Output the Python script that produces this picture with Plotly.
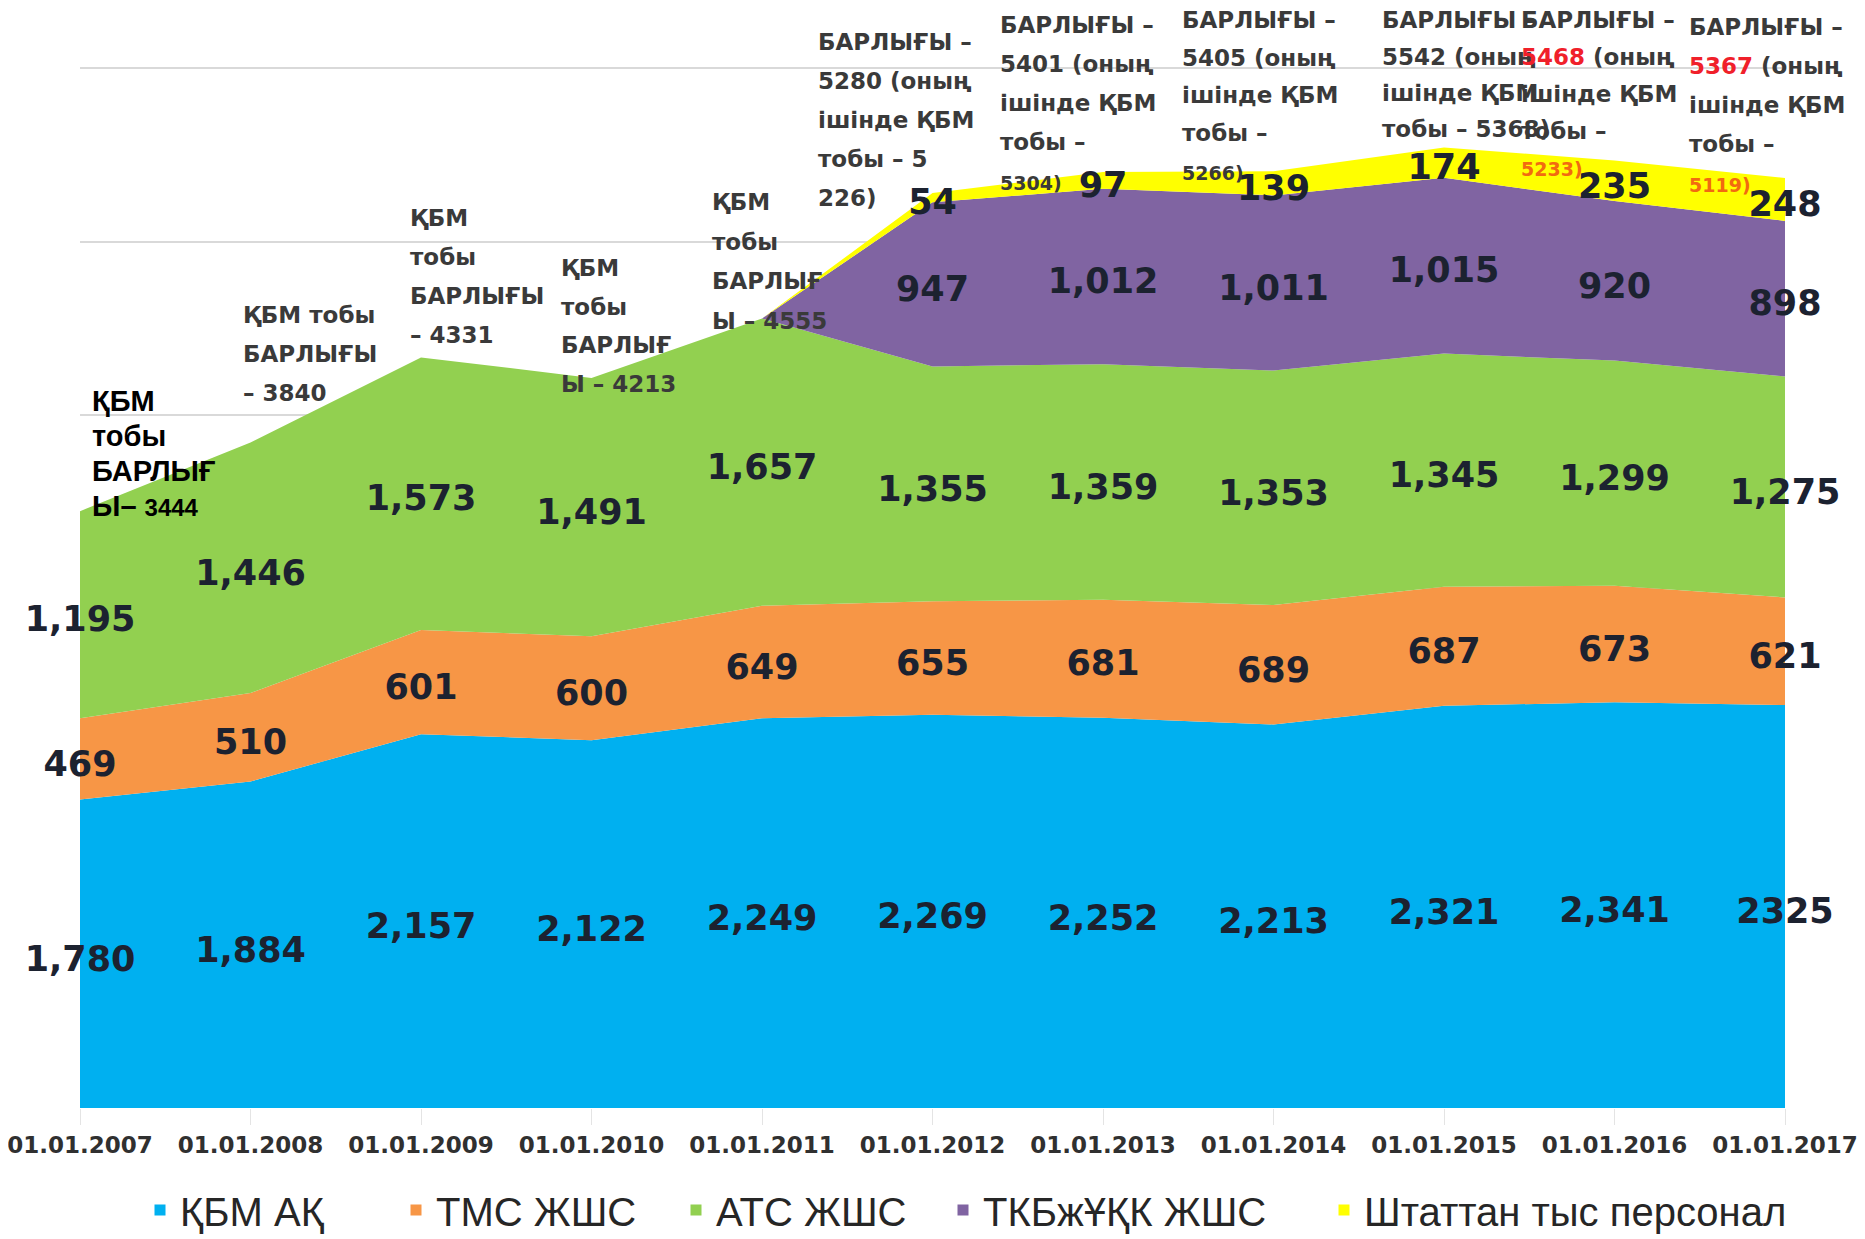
import plotly.graph_objects as go

# ---------------- data ----------------
categories = ["01.01.2007", "01.01.2008", "01.01.2009", "01.01.2010", "01.01.2011",
              "01.01.2012", "01.01.2013", "01.01.2014", "01.01.2015", "01.01.2016", "01.01.2017"]
series_names = ["ҚБМ АҚ", "ТМС ЖШС", "АТС ЖШС", "ТКБжҰҚК ЖШС", "Штаттан тыс персонал"]
kbm_ak = [1780, 1884, 2157, 2122, 2249, 2269, 2252, 2213, 2321, 2341, 2325]
tms = [469, 510, 601, 600, 649, 655, 681, 689, 687, 673, 621]
ats = [1195, 1446, 1573, 1491, 1657, 1355, 1359, 1353, 1345, 1299, 1275]
tkb = [0, 0, 0, 0, 0, 947, 1012, 1011, 1015, 920, 898]
staff = [0, 0, 0, 0, 0, 54, 97, 139, 174, 235, 248]
series_values = [kbm_ak, tms, ats, tkb, staff]

# total-label texts (one list of lines per category)
total_labels = [
    ["ҚБМ", "тобы", "БАРЛЫҒ", "Ы– <span style='font-size:24px'>3444</span>"],
    ["ҚБМ тобы", "БАРЛЫҒЫ", "– 3840"],
    ["ҚБМ", "тобы", "БАРЛЫҒЫ", "– 4331"],
    ["ҚБМ", "тобы", "БАРЛЫҒ", "Ы – 4213"],
    ["ҚБМ", "тобы", "БАРЛЫҒ", "Ы – 4555"],
    ["БАРЛЫҒЫ –", "5280 (оның", "ішінде ҚБМ", "тобы – 5", "226)"],
    ["БАРЛЫҒЫ –", "5401 (оның", "ішінде ҚБМ", "тобы –", "<span style='font-size:19px'>5304)</span>"],
    ["БАРЛЫҒЫ –", "5405 (оның", "ішінде ҚБМ", "тобы –", "<span style='font-size:19px'>5266)</span>"],
    ["БАРЛЫҒЫ –", "5542 (оның", "ішінде ҚБМ", "тобы – 5368)"],
    ["БАРЛЫҒЫ –", "<span style='color:#f0202a'>5468</span> (оның", "ішінде ҚБМ", "тобы –",
     "<span style='font-size:19px;color:#f26a10'>5233)</span>"],
    ["БАРЛЫҒЫ –", "<span style='color:#f0202a'>5367</span> (оның", "ішінде ҚБМ", "тобы –",
     "<span style='font-size:19px;color:#f26a10'>5119)</span>"],
]

# ---------------- styles / layout ----------------
colors = ["#00B0F0", "#F79646", "#92D050", "#8064A2", "#FFFF00"]
SCREEN_W, SCREEN_H = 1865, 1239
BODY = 8                      # default page margin around the figure
W, H = SCREEN_W - BODY, SCREEN_H - BODY
Y_MAX_GRID, Y_TOP = 6000, 6030
PX_PER_UNIT = 1040 / Y_MAX_GRID
PLOT_L, PLOT_R, PLOT_B = 80, 1785, 1108                 # screen pixels of plot area
PLOT_T = PLOT_B - Y_TOP * PX_PER_UNIT
ML, MT = PLOT_L - BODY, PLOT_T - BODY
MR, MB = W - (PLOT_R - BODY), H - (PLOT_B - BODY)
PW, PH = PLOT_R - PLOT_L, PLOT_B - PLOT_T
LABEL_DROP_PX = 8             # value labels sit slightly below band centre

# screen pixel positions (left x, first-line centre y, line step) of total-label blocks
block_pos = [
    (90, 401, 35), (241, 315, 39), (408, 218, 39), (559, 268, 38.5), (710, 202, 39.5),
    (816, 42, 39), (998, 25, 39), (1180, 20, 37.6), (1380, 20, 36.3), (1519, 20, 36.8),
    (1687, 27, 39),
]
# screen x where each legend entry's text begins, and legend centre y
legend_text_x = [178, 434, 714, 981, 1362]
legend_y = 1210


def px(x):
    return (x - PLOT_L) / PW


def py(y):
    return (PLOT_B - y) / PH


xs = list(range(len(categories)))
fig = go.Figure()

for name, vals, col in zip(series_names, series_values, colors):
    fig.add_trace(go.Scatter(
        x=xs, y=vals, stackgroup="one", mode="lines", line=dict(width=0, color=col),
        fillcolor=col, name=name, showlegend=False, hoverinfo="skip"))

# value labels centred in each band
drop = LABEL_DROP_PX / PX_PER_UNIT
cum = [0] * len(xs)
for si, vals in enumerate(series_values):
    mids, texts = [], []
    for i, v in enumerate(vals):
        mids.append(cum[i] + v / 2 - drop)
        t = f"{v:,}" if v > 0 else ""
        if si == 0 and i == len(xs) - 1:
            t = f"{v}"
        texts.append(t)
        cum[i] += v
    fig.add_trace(go.Scatter(
        x=xs, y=mids, mode="text", text=texts, textposition="middle center",
        textfont=dict(family="DejaVu Sans", size=35, color="#1c2230", weight="bold"),
        cliponaxis=False, showlegend=False, hoverinfo="skip"))

# legend entries, one legend box per entry
legend_layouts = {}
for k, (name, col, tx) in enumerate(zip(series_names, colors, legend_text_x)):
    lid = "legend" if k == 0 else f"legend{k + 1}"
    fig.add_trace(go.Scatter(
        x=[None], y=[None], mode="markers", name=name, legend=lid,
        marker=dict(symbol="square", size=11, color=col)))
    legend_layouts[lid] = dict(
        orientation="h", x=px(tx - 38), xanchor="left", y=py(legend_y), yanchor="middle",
        font=dict(family="Liberation Sans", size=40, color="#262626"),
        itemwidth=30, bgcolor="rgba(0,0,0,0)")

annotations = []
for bi, (lines, (bx, by, step)) in enumerate(zip(total_labels, block_pos)):
    if bi == 0:
        fnt = dict(family="Liberation Sans", size=29, color="#000000")
        lines = [f"<b>{l}</b>" for l in lines]
    else:
        fnt = dict(family="DejaVu Sans", size=23, color="#3a3a3a", weight="bold")
    for li, l in enumerate(lines):
        yy = by + li * step
        if "font-size:19px" in l:
            yy += 2
        annotations.append(dict(
            xref="paper", yref="paper", x=px(bx), y=py(yy), xanchor="left", yanchor="middle",
            text=l, showarrow=False, font=fnt))

fig.update_layout(
    width=W, height=H,
    margin=dict(l=ML, r=MR, t=MT, b=MB, autoexpand=False),
    paper_bgcolor="white", plot_bgcolor="white",
    xaxis=dict(range=[0, len(xs) - 1], tickmode="array", tickvals=xs, ticktext=categories,
               showgrid=False, zeroline=False, showline=False, automargin=False,
               ticks="outside", ticklen=16, tickcolor="#e4e4e4", ticklabeloverflow="allow",
               tickfont=dict(family="DejaVu Sans", size=23, color="#303030", weight="bold")),
    yaxis=dict(range=[0, Y_TOP], tickmode="linear", tick0=0, dtick=1000,
               showgrid=True, gridcolor="#d9d9d9", gridwidth=1.5,
               showticklabels=False, zeroline=False, showline=False, automargin=False),
    annotations=annotations,
    **legend_layouts,
)

fig.write_html("out.html")
